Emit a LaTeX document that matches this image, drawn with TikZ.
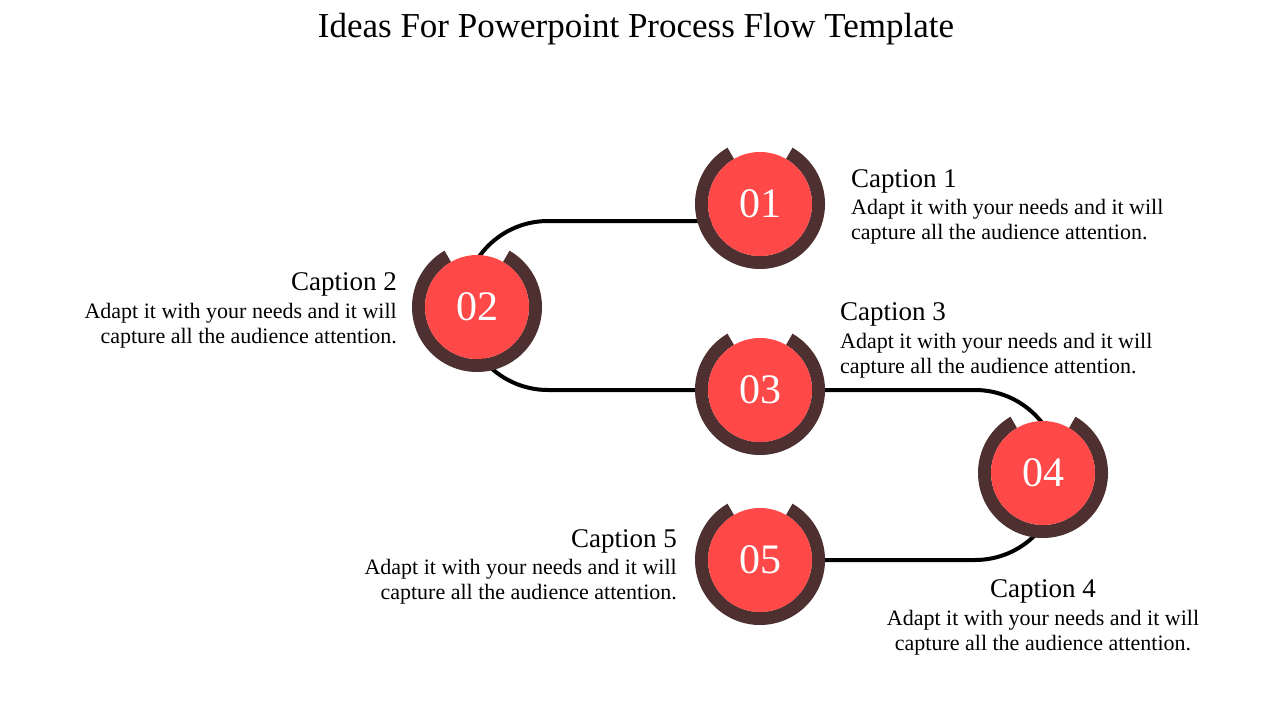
\documentclass[tikz,border=0pt]{standalone}
\usepackage{fontspec}
\setmainfont{Liberation Serif}
\usetikzlibrary{calc}
\definecolor{ringc}{RGB}{78,48,48}
\definecolor{dotc}{RGB}{255,72,72}
\tikzset{
  dot/.style={circle,fill=dotc,minimum size=104pt,inner sep=0pt,text=white,font=\fontsize{42}{44}\selectfont},
  conn/.style={line width=4pt,black},
  ttl/.style={inner sep=0pt,font=\fontsize{27}{29}\selectfont},
  bod/.style={inner sep=0pt,font=\fontsize{22}{25}\selectfont},
  head/.style={inner sep=0pt,font=\fontsize{35}{37}\selectfont}
}
\newcommand{\ringat}[1]{%
  \fill[ringc] ($(#1)+(-60:65)$) arc[start angle=-60,end angle=240,radius=65]
    -- ($(#1)+(240:52)$) arc[start angle=240,end angle=-60,radius=52] -- cycle;}
\begin{document}
\begin{tikzpicture}[x=1pt,y=-1pt]
\useasboundingbox[fill=white] (0,0) rectangle (1280,720);
\node[head,anchor=base] (title) at (636,37) {Ideas For Powerpoint Process Flow Template};
\path (760,204) coordinate (p1) (477,307) coordinate (p2) (760,390) coordinate (p3)
      (1043,473) coordinate (p4) (760,560) coordinate (p5);
% connector
\draw[conn] ($(p1)+(0,17)$) -- ++(-212,0) arc[start angle=270,end angle=90,radius=84.5]
   -- (p3) -- ++(215,0) arc[start angle=270,end angle=450,radius=85] -- (p5);
% rings and dots
\ringat{p1}\ringat{p2}\ringat{p3}\ringat{p4}\ringat{p5}
\node[dot] (n1) at (p1) {01};
\node[dot] (n2) at (p2) {02};
\node[dot] (n3) at (p3) {03};
\node[dot] (n4) at (p4) {04};
\node[dot] (n5) at (p5) {05};
% captions
\node[ttl,anchor=base west] (c1) at (851,187) {Caption 1};
\node[bod,anchor=base west] (c1a) at (851,214) {Adapt it with your needs and it will};
\node[bod,anchor=base west] (c1b) at (851,239) {capture all the audience attention.};
\node[ttl,anchor=base east] (c2) at (397,290) {Caption 2};
\node[bod,anchor=base east] (c2a) at (397,318) {Adapt it with your needs and it will};
\node[bod,anchor=base east] (c2b) at (397,343) {capture all the audience attention.};
\node[ttl,anchor=base west] (c3) at (840,320) {Caption 3};
\node[bod,anchor=base west] (c3a) at (840,348) {Adapt it with your needs and it will};
\node[bod,anchor=base west] (c3b) at (840,373) {capture all the audience attention.};
\node[ttl,anchor=base] (c4) at (1043,597) {Caption 4};
\node[bod,anchor=base] (c4a) at (1043,625) {Adapt it with your needs and it will};
\node[bod,anchor=base] (c4b) at (1043,650) {capture all the audience attention.};
\node[ttl,anchor=base east] (c5) at (677,547) {Caption 5};
\node[bod,anchor=base east] (c5a) at (677,574) {Adapt it with your needs and it will};
\node[bod,anchor=base east] (c5b) at (677,599) {capture all the audience attention.};
\end{tikzpicture}
\end{document}
